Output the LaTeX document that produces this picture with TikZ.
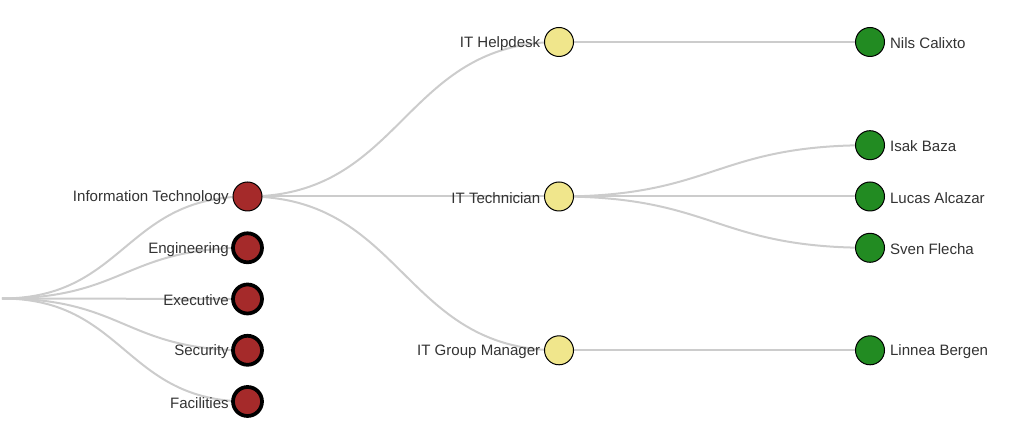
\documentclass[tikz,border=0pt]{standalone}
\usepackage{fontspec}
\setmainfont{Liberation Sans}
\usetikzlibrary{backgrounds}
\definecolor{deptred}{HTML}{A52A2A}
\definecolor{rolekhaki}{HTML}{F0E68C}
\definecolor{staffgreen}{HTML}{228B22}
\definecolor{linkgrey}{HTML}{CCCCCC}

\begin{document}
\begin{tikzpicture}[x=0.75pt, y=-0.75pt,
    unit/.style={circle, draw=black, line width=0.75pt, minimum size=21.75pt,
      inner sep=0pt, outer sep=0pt},
    closed/.style={line width=2.8pt},
    dept/.style={unit, fill=deptred},
    role/.style={unit, fill=rolekhaki},
    staff/.style={unit, fill=staffgreen},
    lbl/.style={inner sep=0pt, yshift=-1pt, text=black!80, font=\fontsize{11.3}{13}\selectfont},
    lbll/.style={label={[lbl, label distance=3pt]left:#1}},
    lblr/.style={label={[lbl, label distance=4pt]right:#1}},
    link/.style={draw=linkgrey, line width=1.5pt}]
  \useasboundingbox (0,0) rectangle (1017,448);
  % root sits at the left edge, not drawn
  \coordinate (root) at (2,298.5);
  % departments
  \node [dept, lbll=Information Technology] (infotech) at (247.5,196.5) {};
  \node [dept, closed, lbll=Engineering] (engineering) at (247.5,247.8) {};
  \node [dept, closed, lbll=Executive] (executive) at (247.5,299) {};
  \node [dept, closed, lbll=Security] (security) at (247.5,350.3) {};
  \node [dept, closed, lbll=Facilities] (facilities) at (247.5,401.5) {};
  % roles
  \node [role, lbll=IT Helpdesk] (helpdesk) at (559,42) {};
  \node [role, lbll=IT Technician] (technician) at (559,196.5) {};
  \node [role, lbll=IT Group Manager] (manager) at (559,350.3) {};
  % staff
  \node [staff, lblr=Nils Calixto] (nils) at (870,42) {};
  \node [staff, lblr=Isak Baza] (isak) at (870,145.2) {};
  \node [staff, lblr=Lucas Alcazar] (lucas) at (870,196.5) {};
  \node [staff, lblr=Sven Flecha] (sven) at (870,247.8) {};
  \node [staff, lblr=Linnea Bergen] (linnea) at (870,350.3) {};
  % links go under the circles
  \begin{scope}[on background layer]
    \foreach \d in {infotech, engineering, executive, security, facilities}
      \draw [link] (root) .. controls +(123,0) and +(-123,0) .. (\d.center);
    \foreach \r in {helpdesk, technician, manager}
      \draw [link] (infotech.center) .. controls +(156,0) and +(-156,0) .. (\r.center);
    \draw [link] (helpdesk.center) .. controls +(155,0) and +(-155,0) .. (nils.center);
    \foreach \s in {isak, lucas, sven}
      \draw [link] (technician.center) .. controls +(155,0) and +(-155,0) .. (\s.center);
    \draw [link] (manager.center) .. controls +(155,0) and +(-155,0) .. (linnea.center);
  \end{scope}
\end{tikzpicture}
\end{document}
